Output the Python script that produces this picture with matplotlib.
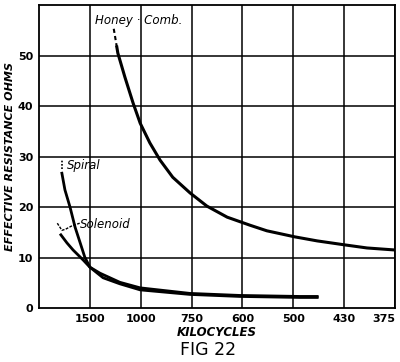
import matplotlib
matplotlib.use("Agg")
import matplotlib.pyplot as plt

# wavelength (m) positions for the kilocycle ticks
tick_wl = [200, 300, 400, 500, 600, 700, 800]
tick_kc = ["1500", "1000", "750", "600", "500", "430", "375"]
y_ticks = [0, 10, 20, 30, 40, 50]

honey_wl = [253, 255, 269, 285, 299, 318, 338, 363, 397, 430, 470, 515, 548, 603, 647, 702, 745, 800]
honey_r = [51.7, 50.5, 45.7, 40.6, 36.6, 32.7, 29.3, 25.9, 22.8, 20.2, 18.0, 16.4, 15.3, 14.1, 13.3, 12.5, 11.9, 11.5]
honey_lead_wl = [247, 253]
honey_lead_r = [55.3, 51.7]

spiral_wl = [145, 151, 161, 171, 181, 190, 200, 226, 259, 299, 397, 495, 613, 647]
spiral_r = [26.7, 23.4, 20.0, 16.0, 12.9, 10.1, 8.1, 6.0, 4.8, 3.6, 2.7, 2.3, 2.1, 2.1]

solenoid_wl = [143, 155, 167, 187, 200, 220, 259, 299, 397, 495, 613, 647]
solenoid_r = [14.5, 12.9, 11.5, 9.5, 8.1, 6.9, 5.1, 4.0, 2.9, 2.5, 2.3, 2.3]

fig = plt.figure(figsize=(4.0, 3.62), dpi=100)
ax = fig.add_axes([0.0975, 0.149, 0.89, 0.837])
ax.set_xlim(100, 800)
ax.set_ylim(0, 60)

for w in tick_wl:
    ax.axvline(w, color="black", lw=1.1, zorder=1)
for y in range(10, 60, 10):
    ax.axhline(y, color="black", lw=1.1, zorder=1)
for s in ax.spines.values():
    s.set_linewidth(1.3)

ax.plot(honey_wl, honey_r, color="black", lw=2.2, zorder=3, solid_joinstyle="round")
ax.plot(honey_lead_wl, honey_lead_r, color="black", lw=1.5, ls=(0, (2, 1.5)), zorder=3)
ax.plot(spiral_wl, spiral_r, color="black", lw=2.0, zorder=3, solid_joinstyle="round")
ax.plot(solenoid_wl, solenoid_r, color="black", lw=2.0, zorder=3, solid_joinstyle="round")

ax.text(210, 57, "Honey · Comb.", fontsize=8.5, style="italic", ha="left", va="center")
ax.text(155, 28.3, "Spiral", fontsize=8.5, style="italic", ha="left", va="center")
ax.plot([145, 145], [27.6, 29.6], color="black", lw=1.2, ls=(0, (1, 1)))
ax.text(181, 16.6, "Solenoid", fontsize=8.5, style="italic", ha="left", va="center")
ax.plot([136, 145, 152, 165, 180], [16.8, 15.4, 15.6, 16.3, 16.8], color="black", lw=1.0, ls=(0, (2, 1)))

ax.set_xticks(tick_wl)
ax.set_xticklabels(tick_kc, fontsize=8, fontweight="bold")
ax.get_xticklabels()[-1].set_ha("right")
ax.set_yticks(y_ticks)
ax.set_yticklabels([str(v) for v in y_ticks], fontsize=8, fontweight="bold")
ax.tick_params(length=0, pad=4)
ax.set_xlabel("KILOCYCLES", fontsize=8.5, style="italic", fontweight="bold", labelpad=2)
ax.set_ylabel("EFFECTIVE RESISTANCE OHMS", fontsize=8, style="italic", fontweight="bold", labelpad=2)
fig.text(0.52, 0.033, "FIG 22", fontsize=12.5, ha="center", va="center")

fig.savefig("out.png", dpi=100)
